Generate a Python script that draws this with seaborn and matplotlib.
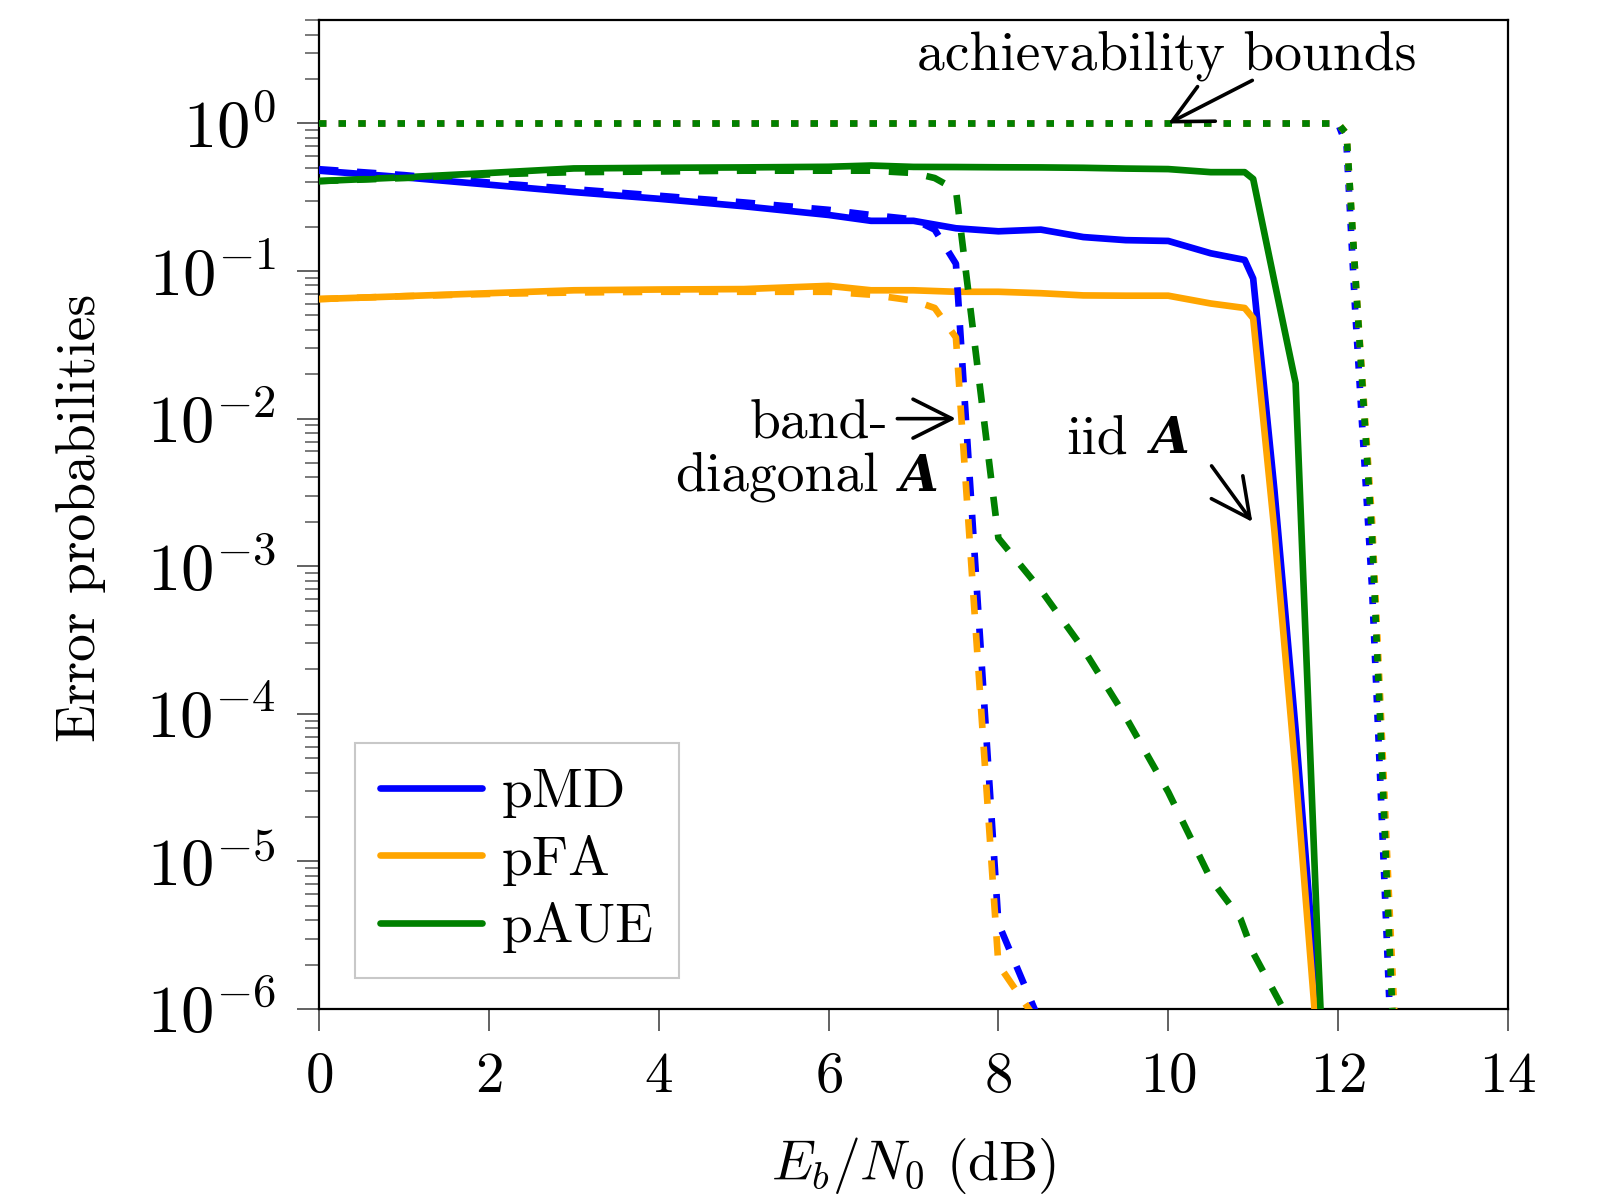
import numpy as np
import pandas as pd
import matplotlib
matplotlib.use("Agg")
import matplotlib.pyplot as plt
import seaborn as sns
from matplotlib.ticker import LogLocator, FuncFormatter, NullFormatter, FixedLocator

# ---------------- data ----------------
# iid A (solid lines)
iid_x = [0, 1, 2, 3, 4, 5, 6, 6.5, 7, 7.5, 8, 8.5, 9, 9.5, 10, 10.5, 10.9, 11.0, 11.25, 11.5, 11.75, 12.0]
iid_pmd = [0.479, 0.432, 0.385, 0.343, 0.309, 0.275, 0.240, 0.219, 0.219, 0.195, 0.186, 0.191,
           0.170, 0.162, 0.160, 0.132, 0.119, 0.089, 3.3e-3, 7.8e-5, 1.2e-6, 2.0e-8]
iid_pfa = [0.0646, 0.0676, 0.0708, 0.0741, 0.0750, 0.0755, 0.0794, 0.0741, 0.0741, 0.0724, 0.0724, 0.0708,
           0.0684, 0.0681, 0.0681, 0.0603, 0.0562, 0.0479, 1.74e-3, 4.0e-5, 6.3e-7, 1.0e-8]
iid_paue = [0.407, 0.432, 0.462, 0.496, 0.501, 0.504, 0.509, 0.519, 0.508, 0.507, 0.505, 0.504,
            0.501, 0.495, 0.491, 0.468, 0.468, 0.421, 0.085, 0.0174, 3.8e-6, 1.6e-9]

# band-diagonal A (dashed lines)
band_x = [0, 1, 2, 3, 4, 5, 6, 6.5, 7, 7.25, 7.5, 8.0, 8.5]
band_pmd = [0.490, 0.447, 0.398, 0.359, 0.324, 0.292, 0.260, 0.240, 0.224, 0.191, 0.112, 3.8e-6, 7.9e-7]
band_pfa = [0.0646, 0.0676, 0.0700, 0.0716, 0.0724, 0.0724, 0.0724, 0.0692, 0.0631, 0.0562, 0.0355, 2.0e-6, 7.6e-7]
band_aue_x = [0, 1, 2, 3, 4, 5, 6, 6.5, 7, 7.25, 7.5, 8.0, 8.5, 9.0, 9.5, 10.0, 10.5, 10.85, 11.0, 11.5]
band_paue = [0.407, 0.427, 0.452, 0.468, 0.473, 0.479, 0.479, 0.479, 0.462, 0.427, 0.355, 1.55e-3,
             6.9e-4, 2.75e-4, 9.5e-5, 2.95e-5, 7.6e-6, 4.1e-6, 2.4e-6, 7.0e-7]

# achievability bounds (dotted lines)
bound_x = [0, 12.0, 12.1, 12.2, 12.3, 12.4, 12.5, 12.6, 12.7]
bound_pmd = [1, 1, 0.708, 0.056, 6.3e-3, 7.1e-4, 3.2e-5, 1.26e-6, 6.3e-8]
bound_pfa = [1, 1, 0.851, 0.10, 0.0141, 2.0e-3, 1.12e-4, 5.6e-6, 3.2e-7]
bound_paue = [1, 1, 0.851, 0.10, 0.0126, 1.58e-3, 7.9e-5, 3.2e-6, 1.6e-7]

labels = ["pMD", "pFA", "pAUE"]
colors = ["#0000ff", "#ffa500", "#008000"]

# ---------------- style ----------------
sns.set_theme(style="ticks")
plt.rcParams.update({
    "font.family": ["cmr10", "DejaVu Serif"],
    "mathtext.fontset": "cm",
    "axes.formatter.use_mathtext": True,
    "axes.unicode_minus": False,
    "font.size": 40,
    "axes.edgecolor": "black",
    "axes.linewidth": 1.6,
    "text.color": "black",
    "axes.labelcolor": "black",
    "xtick.labelcolor": "black",
    "ytick.labelcolor": "black",
})

FS = 40
LW = 4.8
SOLID = "-"
DASHED = (0, (2.9, 2.8))
DOTTED = (0, (1.1, 1.85))

fig = plt.figure(figsize=(16.03, 11.97), dpi=100)
ax = fig.add_axes([0.1990, 0.1571, 0.7417, 0.8259])

def draw(x, y, color, ls, z):
    sns.lineplot(x=x, y=y, color=color, linewidth=LW, linestyle=ls, ax=ax,
                 errorbar=None, sort=False, zorder=z)
    return ax.lines[-1]

handles = []
for ys, c in zip([iid_pmd, iid_pfa, iid_paue], colors):
    handles.append(draw(iid_x, ys, c, SOLID, 3))
draw(band_x, band_pmd, colors[0], DASHED, 3)
draw(band_x, band_pfa, colors[1], DASHED, 3)
draw(band_aue_x, band_paue, colors[2], DASHED, 3)
for ys, c in zip([bound_pmd, bound_pfa, bound_paue], colors):
    draw(bound_x, ys, c, DOTTED, 3)

ax.set_yscale("log")
ax.set_xlim(0, 14)
ax.set_ylim(1e-6, 5)
ax.xaxis.set_major_locator(FixedLocator(np.arange(0, 15, 2)))
ax.xaxis.set_major_formatter(FuncFormatter(lambda v, p: r"$%d$" % int(round(v))))
ax.yaxis.set_major_locator(LogLocator(base=10, numticks=20))
ax.yaxis.set_major_formatter(FuncFormatter(lambda v, p: r"$10^{%d}$" % int(round(np.log10(v)))))
ax.yaxis.set_minor_locator(LogLocator(base=10, subs=np.arange(2, 10), numticks=200))
ax.yaxis.set_minor_formatter(NullFormatter())

ax.tick_params(axis="both", which="major", direction="out", length=16, width=1.3,
               color="#555555", pad=15, labelcolor="black", top=False, right=False)
ax.tick_params(axis="x", which="major", labelsize=41)
ax.tick_params(axis="y", which="major", labelsize=48)
ax.tick_params(axis="both", which="minor", direction="out", length=10, width=1.1,
               color="#555555", top=False, right=False)
for s in ax.spines.values():
    s.set_visible(True)
    s.set_color("black")
    s.set_linewidth(1.6)

ax.set_xlabel(r"$E_b/N_0$ (dB)", fontsize=FS, color="black")
ax.set_ylabel("Error probabilities", fontsize=FS, color="black")
ax.xaxis.set_label_coords(0.5, -0.128)
ax.yaxis.set_label_coords(-0.179, 0.497)

leg = ax.legend(handles, labels, loc="lower left", bbox_to_anchor=(0.030, 0.031),
                borderaxespad=0, fontsize=FS, frameon=True, fancybox=False,
                edgecolor="#c8c8c8", framealpha=1, handlelength=1.85,
                handletextpad=0.35, labelspacing=0.3, borderpad=0.45)
leg.get_frame().set_linewidth(1.5)
for t in leg.get_texts():
    t.set_color("black")

arrow = dict(arrowstyle="->,head_length=0.7,head_width=0.35", lw=2.6, color="black",
             shrinkA=0, shrinkB=0)
afont = dict(family="DejaVu Serif", style="italic", weight="bold", fontsize=36, color="black")

ax.text(7.04, 10 ** 0.367, "achievability bounds", ha="left", va="baseline", fontsize=FS, color="black")
ax.annotate("", xy=(10.0, 1.0), xytext=(10.99, 1.96), arrowprops=arrow)

ax.text(5.07, 10 ** -2.131, "band-", ha="left", va="baseline", fontsize=FS, color="black")
ax.text(4.19, 10 ** -2.49, "diagonal", ha="left", va="baseline", fontsize=FS, color="black")
ax.text(6.84, 10 ** -2.49, "A", ha="left", va="baseline", **afont)
ax.annotate("", xy=(7.5, 1e-2), xytext=(6.81, 1e-2), arrowprops=arrow)

ax.text(8.80, 10 ** -2.236, "iid", ha="left", va="baseline", fontsize=FS, color="black")
ax.text(9.79, 10 ** -2.236, "A", ha="left", va="baseline", **afont)
ax.annotate("", xy=(10.99, 10 ** -2.70), xytext=(10.51, 10 ** -2.32), arrowprops=arrow)

fig.savefig("out.png", dpi=100)
